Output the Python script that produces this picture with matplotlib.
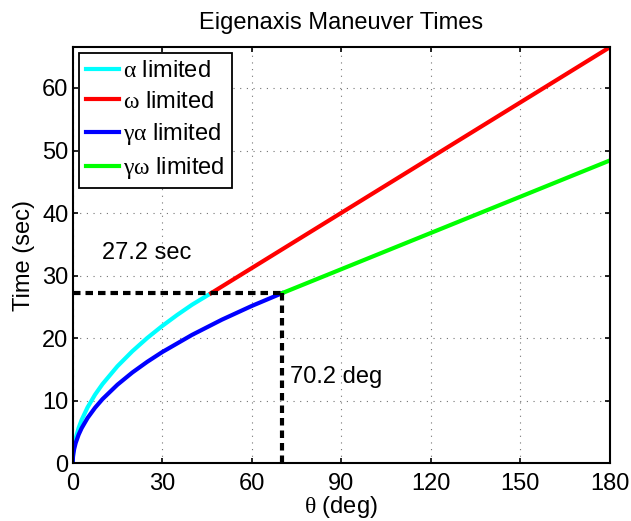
import matplotlib
matplotlib.use("Agg")
import matplotlib.pyplot as plt

plt.rcParams['font.family'] = ['Liberation Sans', 'DejaVu Sans']
plt.rcParams['mathtext.fontset'] = 'custom'
plt.rcParams['mathtext.rm'] = 'Liberation Serif'

# maneuver time (sec) vs. eigenaxis angle (deg)
theta_a = [0, 0.1, 0.25, 0.5, 1, 2, 3, 5, 7.5, 10, 15, 20, 25, 30, 35, 40, 46.4]
t_a = [0, 1.27, 2.0, 2.83, 4.0, 5.67, 6.94, 8.96, 10.98, 12.67, 15.52, 17.92,
       20.04, 21.95, 23.71, 25.35, 27.2]

theta_w = [46.4, 180]
t_w = [27.2, 66.5]

theta_ga = [0, 0.1, 0.25, 0.5, 1, 2, 3, 5, 7.5, 10, 15, 20, 25, 30, 40, 50, 60, 70.2]
t_ga = [0, 1.03, 1.62, 2.30, 3.25, 4.59, 5.62, 7.26, 8.89, 10.27, 12.57, 14.52,
        16.23, 17.78, 20.53, 22.96, 25.15, 27.2]

theta_gw = [70.2, 180]
t_gw = [27.2, 48.4]

t_switch = 27.2
theta_switch = 70.2

labels = [r'$\mathrm{\alpha}$ limited', r'$\mathrm{\omega}$ limited',
          r'$\mathrm{\gamma\alpha}$ limited', r'$\mathrm{\gamma\omega}$ limited']

fs = 17
fig = plt.figure(figsize=(6.31, 5.21), dpi=100)
ax = fig.add_axes([0.1152, 0.1107, 0.8510, 0.7985])

ax.plot(theta_a, t_a, color=(0, 1, 1), lw=3, label=labels[0])
ax.plot(theta_w, t_w, color=(1, 0, 0), lw=3, label=labels[1])
ax.plot(theta_ga, t_ga, color=(0, 0, 1), lw=3, label=labels[2])
ax.plot(theta_gw, t_gw, color=(0, 1, 0), lw=3, label=labels[3])

dash = (0, (1.8, 1.2))
ax.plot([0, theta_switch], [t_switch, t_switch], color='k', lw=3, ls=dash)
ax.plot([theta_switch, theta_switch], [t_switch, 0], color='k', lw=3, ls=dash)

ax.text(9.7, 32.6, '%.1f sec' % t_switch, fontsize=fs)
ax.text(72.8, 12.8, '%.1f deg' % theta_switch, fontsize=fs)

ax.set_xlim(0, 180)
ax.set_ylim(0, 66.5)
ax.set_xticks(range(0, 181, 30))
ax.set_yticks(range(0, 61, 10))
ax.grid(True, ls=(0, (1, 5)), color='0.45', lw=0.8)
ax.set_axisbelow(True)
for s in ax.spines.values():
    s.set_linewidth(1.5)
ax.tick_params(direction='in', length=3.6, width=1.2, top=True, right=True,
               labelsize=fs)
ax.tick_params(axis='x', pad=7)
ax.tick_params(axis='y', pad=3)

ax.set_title('Eigenaxis Maneuver Times', fontsize=fs, pad=13)
ax.set_xlabel(r'$\mathrm{\theta}$ (deg)', fontsize=fs, labelpad=-1)
ax.set_ylabel('Time (sec)', fontsize=fs, labelpad=5)

leg = ax.legend(loc='upper left', fontsize=fs, handlelength=1.4,
                handletextpad=0.2, labelspacing=0.35, borderpad=0.3,
                borderaxespad=0.25, fancybox=False, framealpha=1)
leg.get_frame().set_edgecolor('k')
leg.get_frame().set_linewidth(1.3)

fig.savefig('out.png', dpi=100)
